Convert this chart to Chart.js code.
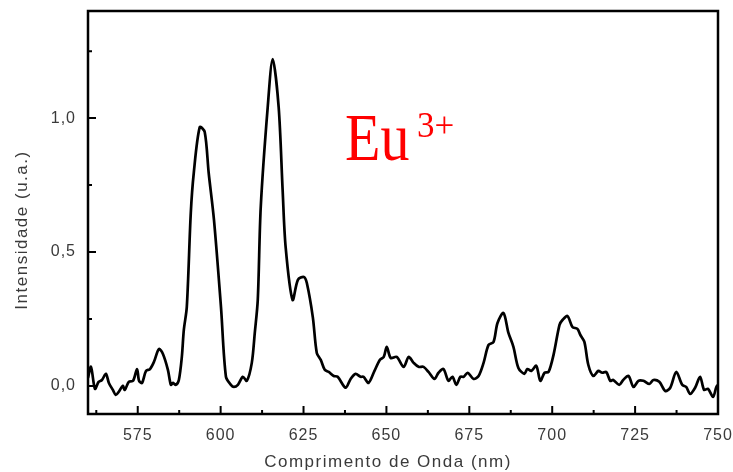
<!DOCTYPE html>
<html>
<head>
<meta charset="utf-8">
<script src="https://cdn.jsdelivr.net/npm/chart.js@4.4.1/dist/chart.umd.min.js"></script>
<style>
    html, body { margin: 0; padding: 0; background: #fff; }
    #wrap { width: 733px; height: 472px; }
</style>
</head>
<body>
<div id="wrap"><canvas id="spectrumChart" width="733" height="472"></canvas></div>
<script>
// Emission spectrum
const wavelengths = [
    560.0, 560.9, 562.1, 563.2, 564.2, 565.4, 566.3, 567.5, 568.4, 569.3,
    570.5, 571.1, 572.3, 573.6, 574.8, 575.4, 576.3, 577.5, 578.7, 579.9,
    581.4, 582.6, 584.1, 585.0, 585.6, 586.5, 587.4, 588.3, 588.9, 589.8,
    591.0, 591.9, 593.7, 595.2, 596.4, 598.0, 600.1, 601.6, 603.1, 604.0,
    605.2, 606.7, 607.9, 609.4, 610.3, 611.2, 612.1, 614.2, 615.7, 617.5,
    618.7, 619.6, 621.7, 623.3, 625.1, 626.0, 627.8, 629.0, 630.2, 631.4,
    632.6, 634.1, 635.3, 637.7, 639.2, 640.7, 642.2, 643.1, 644.6, 646.4,
    648.0, 649.2, 650.1, 651.3, 653.1, 655.2, 656.7, 658.2, 659.7, 661.2,
    662.7, 664.5, 665.7, 667.2, 668.7, 669.9, 671.1, 672.3, 673.3, 674.5,
    676.3, 677.8, 679.3, 680.8, 682.3, 683.5, 685.3, 686.8, 688.3, 689.8,
    691.6, 692.5, 693.7, 695.2, 696.4, 697.7, 698.9, 700.4, 702.2, 703.1,
    704.6, 706.1, 707.6, 708.5, 709.7, 710.9, 712.4, 713.9, 715.1, 716.3,
    717.5, 718.4, 720.2, 721.4, 723.0, 724.5, 726.0, 727.5, 729.3, 730.5,
    732.3, 734.1, 735.6, 737.4, 739.2, 740.4, 741.6, 743.1, 744.6, 745.8,
    747.0, 748.5, 749.5, 750.0
];
const intensities = [
    0.030, 0.071, -0.011, 0.015, 0.022, 0.045, 0.011, -0.015, -0.034, -0.022,
    0.000, -0.015, 0.015, 0.019, 0.063, 0.019, 0.011, 0.056, 0.063, 0.090,
    0.138, 0.119, 0.060, 0.004, 0.011, 0.004, 0.022, 0.108, 0.209, 0.295,
    0.646, 0.795, 0.966, 0.948, 0.795, 0.619, 0.295, 0.034, 0.004, -0.004,
    0.004, 0.034, 0.019, 0.086, 0.198, 0.321, 0.668, 1.041, 1.220, 1.041,
    0.731, 0.519, 0.321, 0.396, 0.407, 0.384, 0.257, 0.123, 0.097, 0.060,
    0.052, 0.037, 0.034, -0.007, 0.026, 0.045, 0.034, 0.034, 0.011, 0.056,
    0.097, 0.108, 0.146, 0.104, 0.108, 0.071, 0.108, 0.086, 0.071, 0.071,
    0.052, 0.026, 0.049, 0.063, 0.019, 0.034, 0.004, 0.034, 0.034, 0.049,
    0.026, 0.037, 0.086, 0.153, 0.164, 0.235, 0.272, 0.198, 0.146, 0.067,
    0.045, 0.063, 0.056, 0.075, 0.019, 0.049, 0.052, 0.116, 0.228, 0.246,
    0.261, 0.220, 0.213, 0.190, 0.164, 0.078, 0.037, 0.056, 0.049, 0.052,
    0.019, 0.022, 0.004, 0.022, 0.037, -0.004, 0.019, 0.019, 0.007, 0.022,
    0.015, -0.019, -0.007, 0.052, 0.004, -0.004, -0.030, -0.007, 0.034, -0.015,
    -0.011, -0.041, -0.004, 0.004
];

// Axis ticks
const xMajorTicks = [575, 600, 625, 650, 675, 700, 725, 750];
const xMinorTicks = [562.5, 587.5, 612.5, 637.5, 662.5, 687.5, 712.5, 737.5];
const yMajorTicks = [0, 0.5, 1.0];
const yMinorTicks = [0.25, 0.75, 1.25];
const yTickLabels = ['0,0', '0,5', '1,0'];

const xTitle = 'Comprimento de Onda (nm)';
const yTitle = 'Intensidade (u.a.)';

const textColor = '#3a3a3a';
const sansFont = "'Liberation Sans', Arial, sans-serif";

// frame, inward ticks, titles and the Eu label
const framePlugin = {
    id: 'frame',
    beforeDraw(chart) {
        chart.ctx.letterSpacing = '1px';
    },
    afterDraw(chart) {
        const ctx = chart.ctx;
        const area = chart.chartArea;
        const xs = chart.scales.x;
        const ys = chart.scales.y;
        ctx.save();
        ctx.strokeStyle = '#000';
        ctx.lineWidth = 2.5;
        ctx.strokeRect(area.left, area.top, area.right - area.left, area.bottom - area.top);

        ctx.lineWidth = 2;
        ctx.beginPath();
        xMajorTicks.forEach(v => {
            const px = xs.getPixelForValue(v);
            ctx.moveTo(px, area.bottom);
            ctx.lineTo(px, area.bottom - 8);
        });
        xMinorTicks.forEach(v => {
            const px = xs.getPixelForValue(v);
            ctx.moveTo(px, area.bottom);
            ctx.lineTo(px, area.bottom - 4);
        });
        yMajorTicks.forEach(v => {
            const py = ys.getPixelForValue(v);
            ctx.moveTo(area.left, py);
            ctx.lineTo(area.left + 8, py);
        });
        yMinorTicks.forEach(v => {
            const py = ys.getPixelForValue(v);
            ctx.moveTo(area.left, py);
            ctx.lineTo(area.left + 4, py);
        });
        ctx.stroke();

        // axis titles
        ctx.fillStyle = textColor;
        ctx.font = '17px ' + sansFont;
        ctx.letterSpacing = '1.5px';
        ctx.textAlign = 'center';
        ctx.textBaseline = 'middle';
        ctx.fillText(xTitle, 388, 462);
        ctx.save();
        ctx.translate(22, 230);
        ctx.rotate(-Math.PI / 2);
        ctx.fillText(yTitle, 0, 0);
        ctx.restore();

        // Eu3+ label
        ctx.letterSpacing = '0px';
        ctx.fillStyle = '#ff0000';
        ctx.textAlign = 'left';
        ctx.textBaseline = 'alphabetic';
        ctx.save();
        ctx.translate(345, 160);
        ctx.scale(1, 1.17);
        ctx.font = "58px 'Liberation Serif', 'Times New Roman', serif";
        ctx.fillText('Eu', 0, 0);
        ctx.restore();
        ctx.font = "35px 'Liberation Serif', 'Times New Roman', serif";
        ctx.fillText('3+', 417, 137);
        ctx.restore();
    }
};

const ctx = document.getElementById('spectrumChart').getContext('2d');
new Chart(ctx, {
    type: 'line',
    data: {
        datasets: [{
            data: wavelengths.map((w, i) => ({ x: w, y: intensities[i] })),
            borderColor: '#000',
            borderWidth: 2.7,
            pointRadius: 0,
            tension: 0.3,
            fill: false
        }]
    },
    options: {
        responsive: false,
        animation: false,
        layout: {
            padding: { top: 11, right: 15, left: 0, bottom: 0 }
        },
        plugins: {
            legend: { display: false },
            tooltip: { enabled: false }
        },
        scales: {
            x: {
                type: 'linear',
                min: 560,
                max: 750,
                afterBuildTicks: scale => {
                    scale.ticks = xMajorTicks.map(v => ({ value: v }));
                },
                afterFit: scale => {
                    scale.height = 58;
                    scale.paddingLeft = 0;
                    scale.paddingRight = 0;
                },
                grid: { display: false, drawTicks: false },
                border: { display: false },
                ticks: {
                    color: textColor,
                    font: { family: sansFont, size: 16 },
                    padding: 12,
                    maxRotation: 0,
                    autoSkip: false,
                    callback: value => String(value)
                }
            },
            y: {
                type: 'linear',
                min: -0.105,
                max: 1.4,
                afterBuildTicks: scale => {
                    scale.ticks = yMajorTicks.map(v => ({ value: v }));
                },
                afterFit: scale => {
                    scale.width = 88;
                    scale.paddingTop = 0;
                    scale.paddingBottom = 0;
                },
                grid: { display: false, drawTicks: false },
                border: { display: false },
                ticks: {
                    color: textColor,
                    font: { family: sansFont, size: 16 },
                    padding: 12,
                    callback: (value) => yTickLabels[yMajorTicks.indexOf(value)]
                }
            }
        }
    },
    plugins: [framePlugin]
});
</script>
</body>
</html>
